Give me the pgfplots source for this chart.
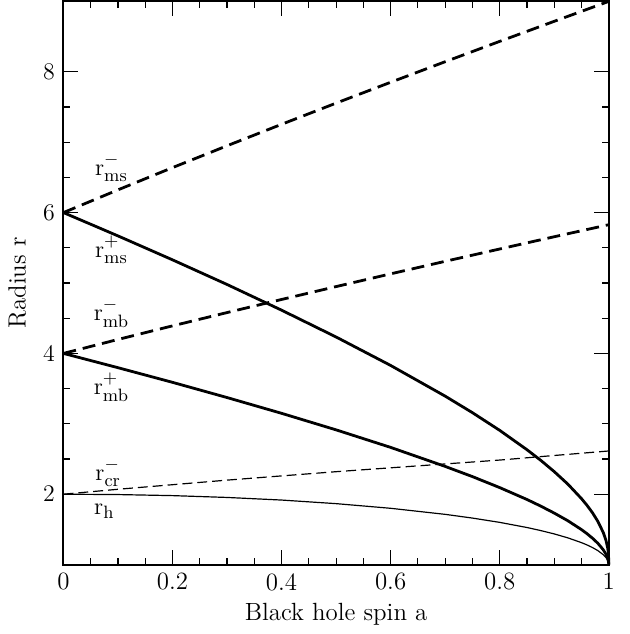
\documentclass[border=0pt]{standalone}
\usepackage{pgfplots}
\pgfplotsset{compat=1.18}
\newcommand{\lab}[2]{$\mathrm{r}^{\raisebox{1.2pt}{$\scriptstyle #1$}}_{\mathrm{#2}}$}
\begin{document}
\begin{tikzpicture}
\fontsize{12.5}{14}\selectfont
\begin{axis}[
  scale only axis,
  width=274pt, height=283pt,
  xmin=0, xmax=1, ymin=1, ymax=9,
  xtick={0,0.2,0.4,0.6,0.8,1},
  xticklabels={0,0.2,0.4,0.6,0.8,1},
  ytick={2,4,6,8},
  minor x tick num=3,
  minor y tick num=3,
  tick align=inside,
  tick pos=both,
  major tick length=7.5pt,
  minor tick length=3.5pt,
  every tick/.style={black, line width=0.6pt},
  axis line style={line width=1pt},
  tick label style={font=\fontsize{12.5}{14}\selectfont},
  label style={font=\fontsize{12.5}{14}\selectfont},
  xlabel={Black hole spin a},
  ylabel={Radius r},
  xlabel style={yshift=2pt},
  clip=false,
]
% r_ms^- retrograde ISCO
\addplot[black, line width=1.4pt, dash pattern=on 6.5pt off 3.5pt] coordinates {
(0,6) (0.1,6.323) (0.2,6.639) (0.3,6.949) (0.4,7.254) (0.5,7.555) (0.6,7.851) (0.7,8.143) (0.8,8.432) (0.9,8.717) (1,9)};
% r_ms^+ prograde ISCO
\addplot[black, line width=1.4pt, line join=round] coordinates {
(0,6) (0.1,5.669) (0.2,5.329) (0.3,4.979) (0.4,4.614) (0.5,4.233) (0.6,3.829) (0.7,3.393) (0.75,3.158) (0.8,2.907) (0.85,2.632) (0.875,2.483) (0.9,2.321) (0.925,2.143) (0.95,1.937) (0.96,1.843) (0.97,1.738) (0.98,1.614) (0.99,1.455) (0.995,1.341) (0.998,1.237) (0.999,1.182) (0.9999,1.079) (1,1)};
% r_mb^- 
\addplot[black, line width=1.4pt, dash pattern=on 6.5pt off 3.5pt] coordinates {
(0,4) (0.1,4.198) (0.2,4.391) (0.3,4.580) (0.4,4.766) (0.5,4.949) (0.6,5.130) (0.7,5.308) (0.8,5.483) (0.9,5.657) (1,5.828)};
% r_mb^+
\addplot[black, line width=1.4pt, line join=round] coordinates {
(0,4) (0.1,3.797) (0.2,3.589) (0.3,3.373) (0.4,3.149) (0.5,2.914) (0.6,2.665) (0.7,2.395) (0.75,2.250) (0.8,2.094) (0.85,1.925) (0.875,1.832) (0.9,1.732) (0.925,1.623) (0.95,1.497) (0.96,1.440) (0.97,1.376) (0.98,1.303) (0.99,1.210) (0.995,1.146) (0.998,1.091) (0.999,1.064) (0.9999,1.020) (1,1)};
% r_cr^-
\addplot[black, line width=0.6pt, dash pattern=on 5pt off 2.5pt] coordinates {
(0,2) (0.1,2.07) (0.2,2.135) (0.3,2.20) (0.4,2.26) (0.5,2.32) (0.6,2.375) (0.7,2.43) (0.8,2.485) (0.9,2.55) (1,2.614)};
% r_h
\addplot[black, line width=0.6pt, line join=round] coordinates {
(0,2) (0.1,1.995) (0.2,1.980) (0.3,1.954) (0.4,1.917) (0.5,1.866) (0.6,1.800) (0.7,1.714) (0.75,1.661) (0.8,1.600) (0.85,1.527) (0.875,1.484) (0.9,1.436) (0.925,1.380) (0.95,1.312) (0.96,1.280) (0.97,1.243) (0.98,1.199) (0.99,1.141) (0.995,1.100) (0.999,1.045) (0.9999,1.014) (1,1)};
\node at (axis cs:0.088,6.64) {\lab{-}{ms}};
\node at (axis cs:0.088,5.47) {\lab{+}{ms}};
\node at (axis cs:0.088,4.57) {\lab{-}{mb}};
\node at (axis cs:0.088,3.52) {\lab{+}{mb}};
\node at (axis cs:0.082,2.30) {\lab{-}{cr}};
\node at (axis cs:0.075,1.76) {$\mathrm{r}_{\mathrm{h}}$};
\end{axis}
\path (current axis.north east) ++(10.5pt,0) coordinate (bb);
\path (bb);
\end{tikzpicture}
\end{document}
